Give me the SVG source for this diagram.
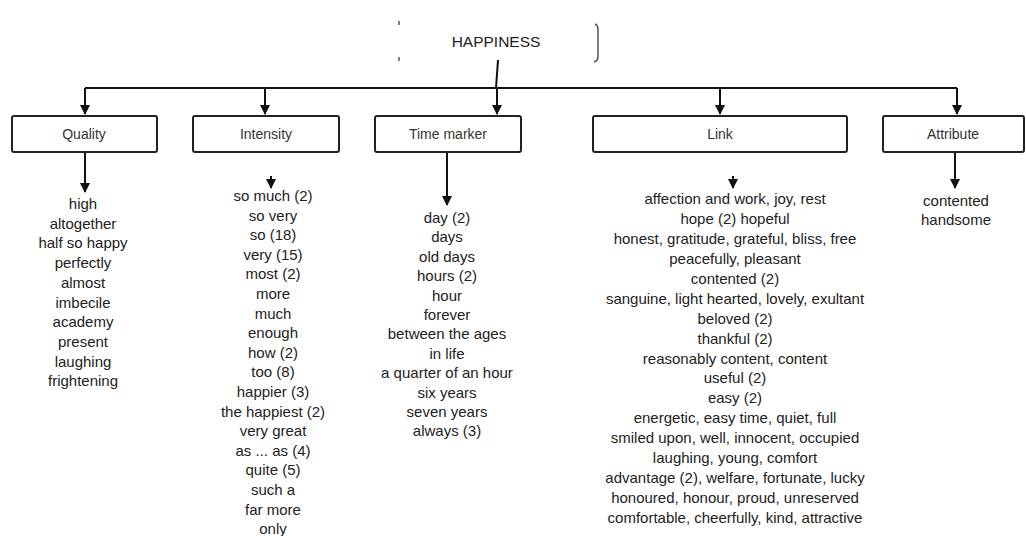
<svg xmlns="http://www.w3.org/2000/svg" width="1026" height="536" viewBox="0 0 1026 536">
<style>
.box{fill:#fff;stroke:#222;stroke-width:2}
.lbl{font-family:"Liberation Sans",Arial,sans-serif;font-size:14px;fill:#333;text-anchor:middle;dominant-baseline:central}
.lst{font-family:"Liberation Sans",Arial,sans-serif;font-size:15px;fill:#222;text-anchor:middle;dominant-baseline:central}
.ln{fill:none;stroke:#111;stroke-width:2}
.mk{fill:none;stroke:#555;stroke-width:1.5}
</style>
<defs>
<marker id="ah" viewBox="0 0 10 10" refX="9" refY="5" markerWidth="5" markerHeight="5" orient="auto">
<path d="M0,0 L10,5 L0,10 z" fill="#111"/>
</marker>
</defs>
<rect width="1026" height="536" fill="#fff"/>
<g id="header">
<text class="lst" x="496" y="41" style="font-size:15.5px">HAPPINESS</text>
<path class="mk" d="M399,21 v4 M399,57 v4"/>
<path class="mk" d="M595,24 Q598,25 598,30 V56 Q598,61 594,62"/>
</g>
<g id="connectors">
<path class="ln" d="M498,60 L496,88"/>
<path class="ln" d="M85,88 H957"/>
<path class="ln" d="M85,88 V114" marker-end="url(#ah)"/>
<path class="ln" d="M265,88 V114" marker-end="url(#ah)"/>
<path class="ln" d="M497,88 V114" marker-end="url(#ah)"/>
<path class="ln" d="M720,88 V114" marker-end="url(#ah)"/>
<path class="ln" d="M957,88 V114" marker-end="url(#ah)"/>
<path class="ln" d="M85,153 V192" marker-end="url(#ah)"/>
<path class="ln" d="M271,176 V188" marker-end="url(#ah)"/>
<path class="ln" d="M447,153 V205" marker-end="url(#ah)"/>
<path class="ln" d="M733,176 V188" marker-end="url(#ah)"/>
<path class="ln" d="M955,153 V188" marker-end="url(#ah)"/>
</g>
<g id="quality">
<rect class="box" x="12" y="116" width="145" height="36" rx="2"/>
<text class="lbl" x="84" y="134">Quality</text>
<text class="lst"><tspan x="83" y="203">high</tspan><tspan x="83" y="223">altogether</tspan><tspan x="83" y="242">half so happy</tspan><tspan x="83" y="262">perfectly</tspan><tspan x="83" y="282">almost</tspan><tspan x="83" y="302">imbecile</tspan><tspan x="83" y="321">academy</tspan><tspan x="83" y="341">present</tspan><tspan x="83" y="361">laughing</tspan><tspan x="83" y="380">frightening</tspan></text>
</g>
<g id="intensity">
<rect class="box" x="193" y="116" width="146" height="36" rx="2"/>
<text class="lbl" x="266" y="134">Intensity</text>
<text class="lst"><tspan x="273" y="195">so much (2)</tspan><tspan x="273" y="215">so very</tspan><tspan x="273" y="234">so (18)</tspan><tspan x="273" y="254">very (15)</tspan><tspan x="273" y="273">most (2)</tspan><tspan x="273" y="293">more</tspan><tspan x="273" y="313">much</tspan><tspan x="273" y="332">enough</tspan><tspan x="273" y="352">how (2)</tspan><tspan x="273" y="371">too (8)</tspan><tspan x="273" y="391">happier (3)</tspan><tspan x="273" y="411">the happiest (2)</tspan><tspan x="273" y="430">very great</tspan><tspan x="273" y="450">as ... as (4)</tspan><tspan x="273" y="469">quite (5)</tspan><tspan x="273" y="489">such a</tspan><tspan x="273" y="509">far more</tspan><tspan x="273" y="528">only</tspan></text>
</g>
<g id="time-marker">
<rect class="box" x="375" y="116" width="146" height="36" rx="2"/>
<text class="lbl" x="448" y="134">Time marker</text>
<text class="lst"><tspan x="447" y="217">day (2)</tspan><tspan x="447" y="236">days</tspan><tspan x="447" y="256">old days</tspan><tspan x="447" y="275">hours (2)</tspan><tspan x="447" y="295">hour</tspan><tspan x="447" y="314">forever</tspan><tspan x="447" y="333">between the ages</tspan><tspan x="447" y="353">in life</tspan><tspan x="447" y="372">a quarter of an hour</tspan><tspan x="447" y="392">six years</tspan><tspan x="447" y="411">seven years</tspan><tspan x="447" y="430">always (3)</tspan></text>
</g>
<g id="link">
<rect class="box" x="593" y="116" width="254" height="36" rx="2"/>
<text class="lbl" x="720" y="134">Link</text>
<text class="lst"><tspan x="735" y="198">affection and work, joy, rest</tspan><tspan x="735" y="218">hope (2) hopeful</tspan><tspan x="735" y="238">honest, gratitude, grateful, bliss, free</tspan><tspan x="735" y="258">peacefully, pleasant</tspan><tspan x="735" y="278">contented (2)</tspan><tspan x="735" y="298">sanguine, light hearted, lovely, exultant</tspan><tspan x="735" y="318">beloved (2)</tspan><tspan x="735" y="338">thankful (2)</tspan><tspan x="735" y="358">reasonably content, content</tspan><tspan x="735" y="377">useful (2)</tspan><tspan x="735" y="397">easy (2)</tspan><tspan x="735" y="417">energetic, easy time, quiet, full</tspan><tspan x="735" y="437">smiled upon, well, innocent, occupied</tspan><tspan x="735" y="457">laughing, young, comfort</tspan><tspan x="735" y="477">advantage (2), welfare, fortunate, lucky</tspan><tspan x="735" y="497">honoured, honour, proud, unreserved</tspan><tspan x="735" y="517">comfortable, cheerfully, kind, attractive</tspan></text>
</g>
<g id="attribute">
<rect class="box" x="883" y="116" width="141" height="36" rx="2"/>
<text class="lbl" x="953" y="134">Attribute</text>
<text class="lst"><tspan x="956" y="200">contented</tspan><tspan x="956" y="219">handsome</tspan></text>
</g>
</svg>
